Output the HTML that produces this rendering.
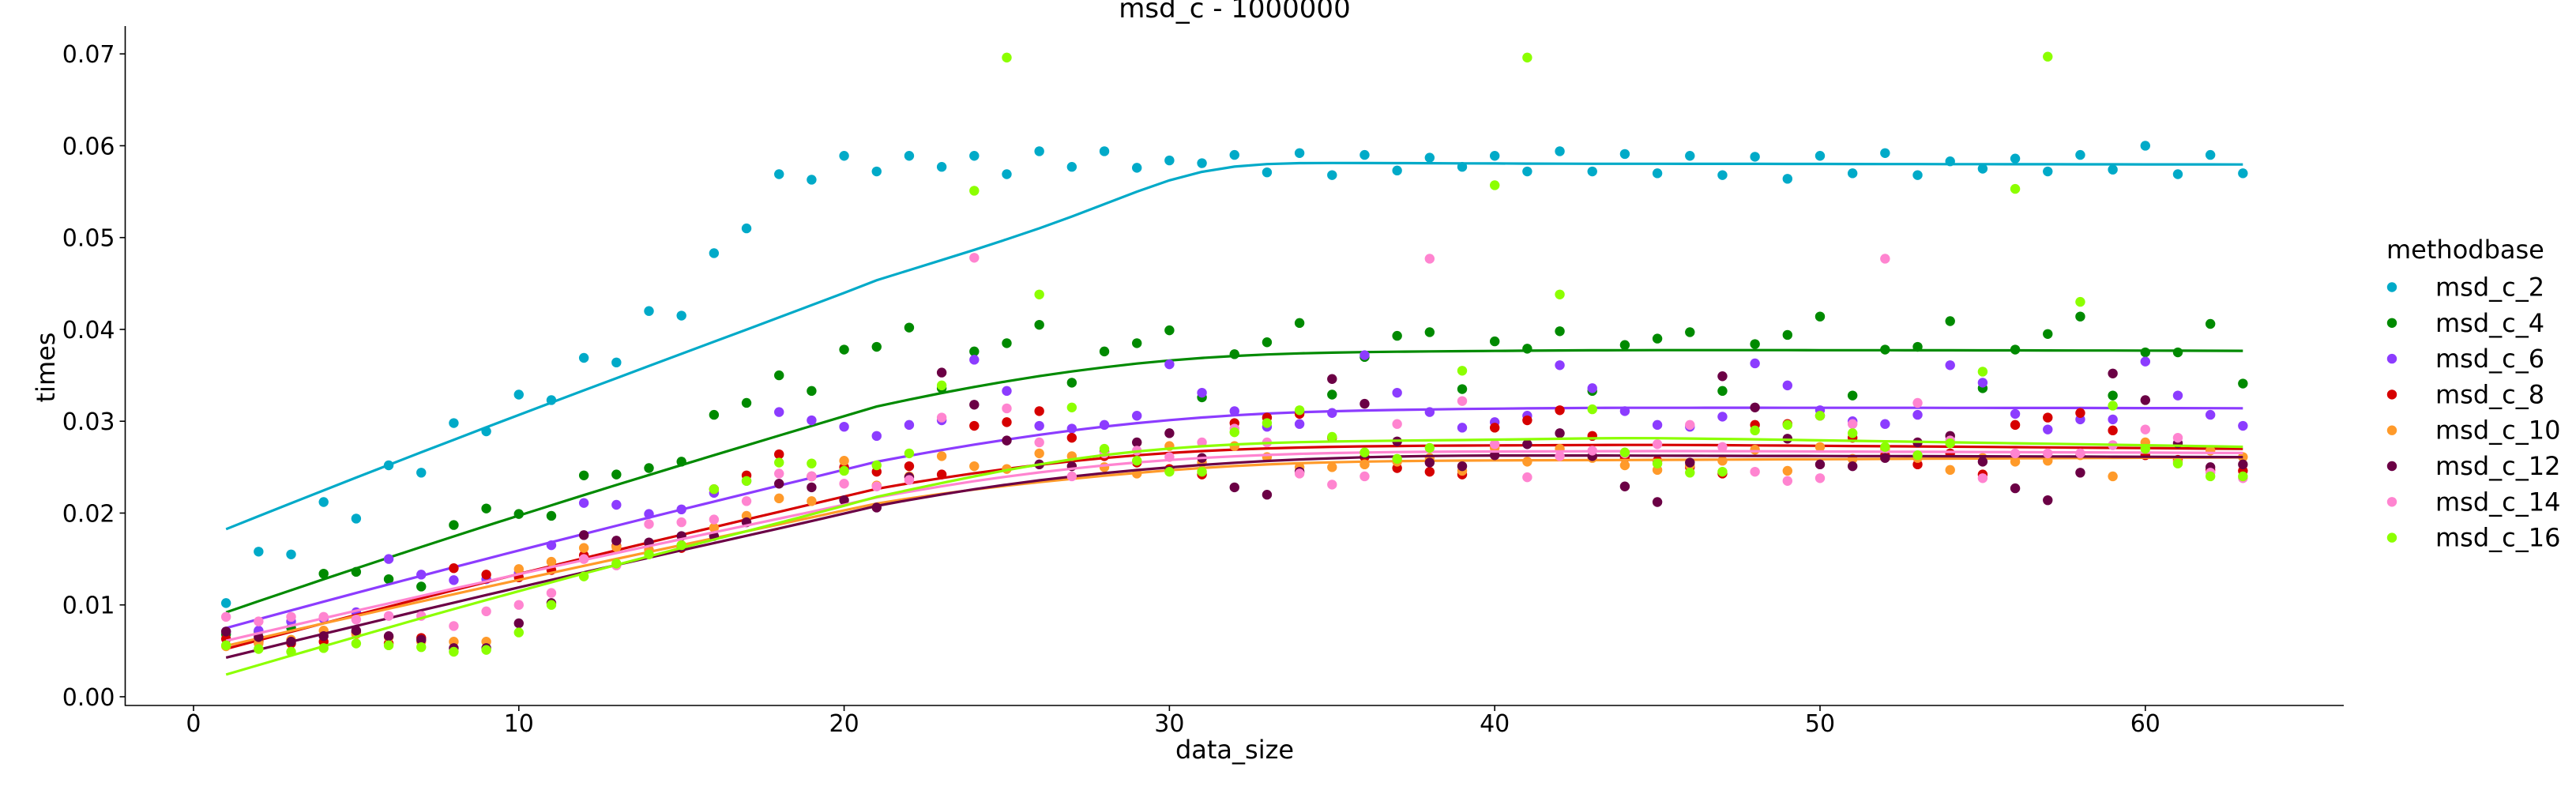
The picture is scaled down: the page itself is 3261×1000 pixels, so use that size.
<!DOCTYPE html>
<html><head><meta charset="utf-8"><style>
html,body{margin:0;padding:0;background:#fff;}
svg{display:block;font-family:"DejaVu Sans","Liberation Sans",sans-serif;}
</style></head><body>
<svg id="chart" width="3261" height="1000" viewBox="0 0 3261 1000" xmlns="http://www.w3.org/2000/svg">
<rect width="3261" height="1000" fill="#fff"/>
<text x="1563" y="22" font-size="34" text-anchor="middle" fill="#000">msd_c - 1000000</text>
<g id="plot"></g>
<g id="axes"></g>
<text x="1563" y="960" font-size="32" text-anchor="middle" fill="#000">data_size</text>
<text transform="translate(60,465) rotate(-90)" font-size="32" text-anchor="middle" dominant-baseline="middle" fill="#000">times</text>
<g id="legend">
<text x="3021" y="327" font-size="32" fill="#000">methodbase</text>
</g>
</svg>
<script>
const seriesNames = ["msd_c_2","msd_c_4","msd_c_6","msd_c_8","msd_c_10","msd_c_12","msd_c_14","msd_c_16"];
const seriesColors = ["#00aac8","#008a00","#8c3cff","#d60000","#ff9a2a","#6b0045","#ff84d0","#8cff00"];
const xTicks = [0,10,20,30,40,50,60];
const yTicks = [0,0.01,0.02,0.03,0.04,0.05,0.06,0.07];
const yTickLabels = ["0.00","0.01","0.02","0.03","0.04","0.05","0.06","0.07"];
const dataSize = Array.from({length:63},(_, i)=>i+1);
// values in units of 1e-3
const c2 = [10.2,15.8,15.5,21.2,19.4,25.2,24.4,29.8,28.9,32.9,32.3,36.9,36.4,42.0,41.5,48.3,51.0,56.9,56.3,58.9,57.2,58.9,57.7,58.9,56.9,59.4,57.7,59.4,57.6,58.4,58.1,59.0,57.1,59.2,56.8,59.0,57.3,58.7,57.7,58.9,57.2,59.4,57.2,59.1,57.0,58.9,56.8,58.8,56.4,58.9,57.0,59.2,56.8,58.3,57.5,58.6,57.2,59.0,57.4,60.0,56.9,59.0,57.0];
const c4 = [6.8,7.1,7.5,13.4,13.6,12.8,12.0,18.7,20.5,19.9,19.7,24.1,24.2,24.9,25.6,30.7,32.0,35.0,33.3,37.8,38.1,40.2,33.6,37.6,38.5,40.5,34.2,37.6,38.5,39.9,32.6,37.3,38.6,40.7,32.9,37.0,39.3,39.7,33.5,38.7,37.9,39.8,33.3,38.3,39.0,39.7,33.3,38.4,39.4,41.4,32.8,37.8,38.1,40.9,33.6,37.8,39.5,41.4,32.8,37.5,37.5,40.6,34.1];
const c6 = [7.1,7.2,8.2,8.5,9.2,15.0,13.3,12.7,12.8,13.5,16.5,21.1,20.9,19.9,20.4,22.2,23.5,31.0,30.1,29.4,28.4,29.6,30.1,36.7,33.3,29.5,29.2,29.6,30.6,36.2,33.1,31.1,29.4,29.7,30.9,37.2,33.1,31.0,29.3,29.9,30.6,36.1,33.6,31.1,29.6,29.4,30.5,36.3,33.9,31.2,30.0,29.7,30.7,36.1,34.2,30.8,29.1,30.2,30.2,36.5,32.8,30.7,29.5];
const c8 = [6.3,6.0,5.8,6.0,7.0,5.8,6.4,14.0,13.3,13.0,13.8,15.4,16.4,16.7,16.2,22.6,24.1,26.4,24.0,25.0,24.5,25.1,24.2,29.5,29.9,31.1,28.2,26.2,25.5,24.8,24.2,29.8,30.4,30.8,28.2,26.1,24.9,24.5,24.2,29.3,30.1,31.2,28.4,26.0,25.7,25.0,24.3,29.6,29.7,30.6,28.2,26.3,25.3,26.5,24.2,29.6,30.4,30.9,29.0,26.3,25.8,24.7,24.6];
const c10 = [5.5,5.8,6.2,7.2,6.8,6.5,6.0,6.0,6.0,13.9,14.7,16.2,16.3,16.0,16.5,18.4,19.7,21.6,21.3,25.7,23.0,24.0,26.2,25.1,24.8,26.5,26.2,25.0,24.3,27.3,25.5,27.3,26.1,25.0,25.0,25.3,25.6,26.0,24.6,27.1,25.6,27.0,26.0,25.2,24.7,25.2,25.7,26.9,24.6,27.2,25.9,27.0,26.0,24.7,26.0,25.6,25.7,26.3,24.0,27.7,25.6,26.8,26.1];
const c12 = [7.1,6.5,6.0,6.6,7.2,6.6,6.2,5.3,5.3,8.0,10.2,17.6,17.0,16.8,17.5,17.5,19.0,23.2,22.8,21.4,20.6,23.9,35.3,31.8,27.9,25.3,25.1,26.7,27.7,28.7,26.0,22.8,22.0,24.5,34.6,31.9,27.8,25.5,25.1,26.3,27.5,28.7,26.2,22.9,21.2,25.5,34.9,31.5,28.1,25.3,25.1,26.0,27.7,28.4,25.6,22.7,21.4,24.4,35.2,32.3,27.6,25.0,25.3];
const c14 = [8.7,8.2,8.7,8.7,8.4,8.8,8.8,7.7,9.3,10.0,11.3,15.0,14.3,18.8,19.0,19.3,21.3,24.3,24.0,23.2,22.9,23.6,30.4,47.8,31.4,27.7,24.0,26.5,26.8,26.1,27.7,29.2,27.7,24.3,23.1,24.0,29.7,47.7,32.2,27.5,23.9,26.2,26.8,26.5,27.5,29.6,27.2,24.5,23.5,23.8,29.7,47.7,32.0,27.9,23.8,26.5,26.5,26.5,27.4,29.1,28.2,24.4,23.8];
const c16 = [5.6,5.2,4.9,5.3,5.8,5.6,5.4,4.9,5.1,7.0,10.0,13.1,14.5,15.5,16.5,22.6,23.5,25.5,25.4,24.6,25.2,26.5,33.9,55.1,69.6,43.8,31.5,27.0,25.7,24.5,24.5,28.8,29.8,31.2,28.3,26.6,25.9,27.1,35.5,55.7,69.6,43.8,31.3,26.6,25.4,24.4,24.5,29.0,29.6,30.6,28.7,27.2,26.3,27.6,35.4,55.3,69.7,43.0,31.7,27.0,25.4,24.0,24.0];
const seriesValues = [c2,c4,c6,c8,c10,c12,c14,c16];

const NS="http://www.w3.org/2000/svg";
const X0=158.5, X1=2967, Y0=893, Y1=33;
const xMin=-2.1, xMax=66.1, yMin=-0.00095, yMax=0.07303;
function xs(v){return X0+(v-xMin)/(xMax-xMin)*(X1-X0);}
function ys(v){return Y0-(v-yMin)/(yMax-yMin)*(Y0-Y1);}
function mk(tag,attrs,parent){const e=document.createElementNS(NS,tag);for(const k in attrs)e.setAttribute(k,attrs[k]);parent.appendChild(e);return e;}

function lowess(x,y,frac,iters){
  const n=x.length,r=Math.ceil(frac*n);let rw=new Array(n).fill(1);let fit=new Array(n).fill(0);
  for(let it=0;it<=iters;it++){
    for(let i=0;i<n;i++){
      const d=x.map(v=>Math.abs(v-x[i]));const h=[...d].sort((a,b)=>a-b)[r-1];
      let sw=0,sx=0,sy=0,sxx=0,sxy=0;
      for(let j=0;j<n;j++){let u=d[j]/h;let w=u<1?Math.pow(1-u*u*u,3):0;w*=rw[j];sw+=w;sx+=w*x[j];sy+=w*y[j];sxx+=w*x[j]*x[j];sxy+=w*x[j]*y[j];}
      const mx=sx/sw,my=sy/sw,vx=sxx/sw-mx*mx;const b=vx>1e-12?(sxy/sw-mx*my)/vx:0;fit[i]=my+b*(x[i]-mx);
    }
    if(it===iters)break;
    const res=y.map((v,i)=>Math.abs(v-fit[i]));const s=[...res].sort((a,b)=>a-b)[Math.floor(n/2)];
    rw=res.map(e=>{const u=e/(6*s||1e-12);return u<1?Math.pow(1-u*u,2):0;});
  }
  return fit;
}

const plot=document.getElementById('plot');
seriesValues.forEach((vals,si)=>{
  const g=mk('g',{},plot);
  
  
  const yv=vals.map(v=>v/1000);
  yv.forEach((v,i)=>{
    const c=mk('circle',{cx:xs(dataSize[i]),cy:ys(v),r:6.2,fill:seriesColors[si]},g);
    
    
  });
  const fit=lowess(dataSize,yv,2/3,3);
  const pts=fit.map((v,i)=>xs(dataSize[i]).toFixed(1)+','+ys(v).toFixed(1)).join(' ');
  const pl=mk('polyline',{points:pts,fill:'none',stroke:seriesColors[si],'stroke-width':3.2},g);
  
  
});

const axes=document.getElementById('axes');
const ly=mk('line',{x1:X0,y1:Y1,x2:X0,y2:Y0+0.5,stroke:'#000','stroke-width':1.6},axes);


const lx=mk('line',{x1:X0-0.5,y1:Y0,x2:X1,y2:Y0,stroke:'#000','stroke-width':1.6},axes);


xTicks.forEach(t=>{
  const x=xs(t);
  const tk=mk('line',{x1:x,y1:Y0,x2:x,y2:Y0+7,stroke:'#000','stroke-width':1.6},axes);
  
  
  const tx=mk('text',{x:x,y:Y0+33,'font-size':30,'text-anchor':'middle',fill:'#000'},axes);
  tx.textContent=String(t);
  
  
});
yTicks.forEach((t,i)=>{
  const y=ys(t);
  const tk=mk('line',{x1:X0-7,y1:y,x2:X0,y2:y,stroke:'#000','stroke-width':1.6},axes);
  
  
  const tx=mk('text',{x:X0-13,y:y+11,'font-size':30,'text-anchor':'end',fill:'#000'},axes);
  tx.textContent=yTickLabels[i];
  
  
});

const legend=document.getElementById('legend');
seriesNames.forEach((nm,i)=>{
  const y=363.5+45.3*i;
  const g=mk('g',{},legend);
  
  
  mk('circle',{cx:3028,cy:y,r:6.2,fill:seriesColors[i]},g);
  const t=mk('text',{x:3083,y:y+11,'font-size':32,fill:'#000'},g);
  t.textContent=nm;
});
</script>
</body></html>
